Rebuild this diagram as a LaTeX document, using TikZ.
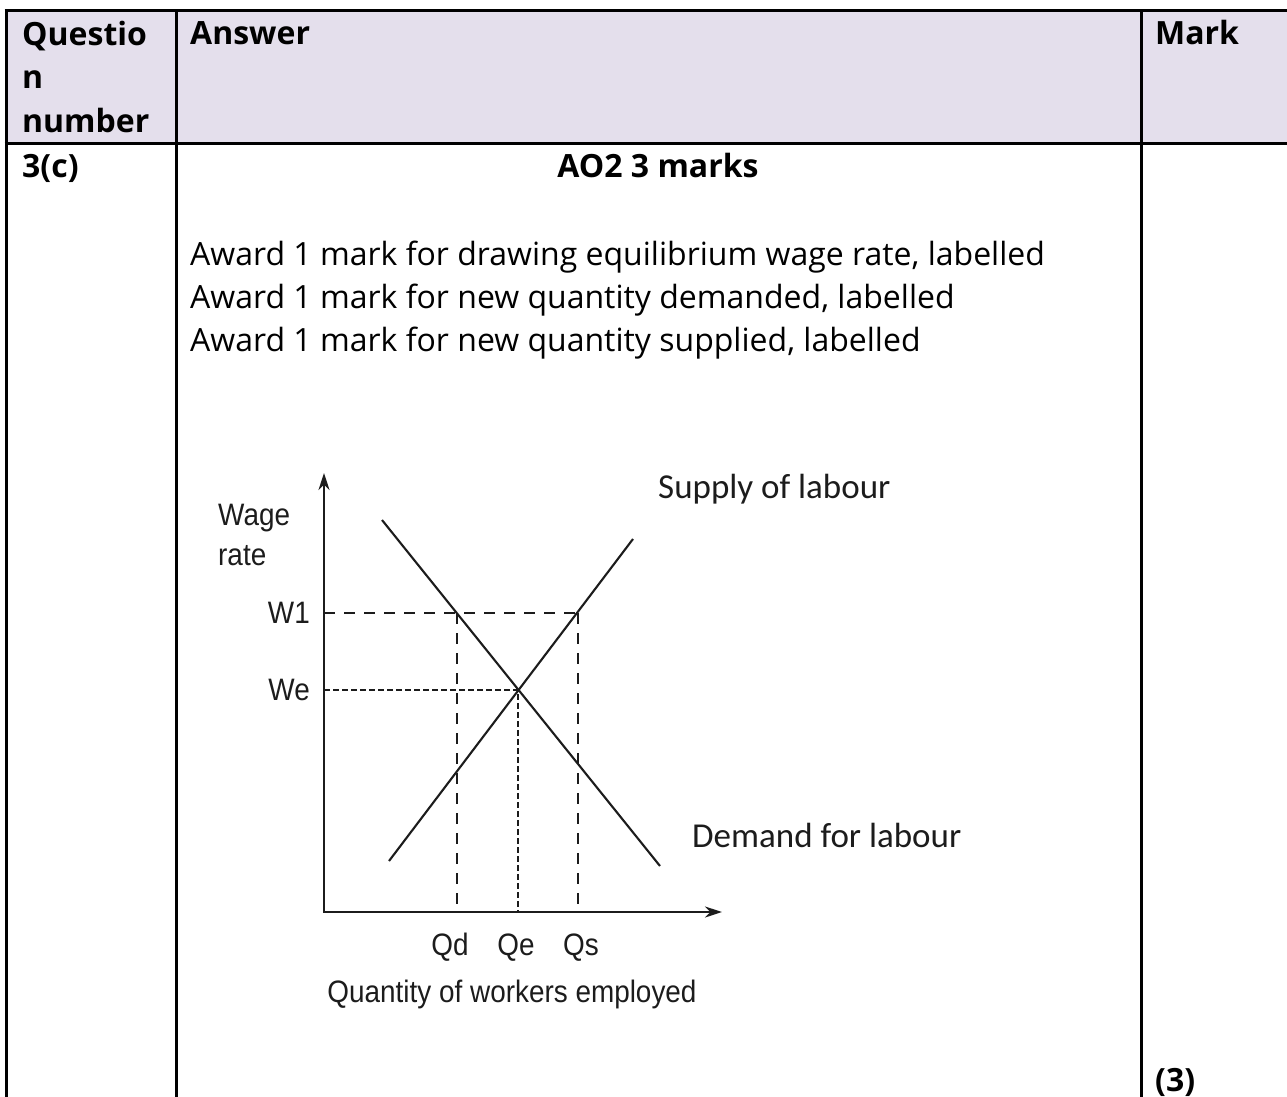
\documentclass[tikz,border=0pt]{standalone}
\usepackage{fontspec}
\setmainfont{Open Sans}
\newfontfamily\graphfont[FakeStretch=0.9]{Liberation Sans}
\newfontfamily\curvefont{Carlito}
\usetikzlibrary{arrows.meta,positioning}
\definecolor{headfill}{HTML}{E4DFEC}
\definecolor{inkgrey}{HTML}{1C1C1C}

\begin{document}
\begin{tikzpicture}[x=1pt, y=-1pt,
  rule/.style={line width=3pt, black},
  headtxt/.style={anchor=base west, inner sep=0pt, font=\fontsize{32}{43.5}\selectfont\bfseries},
  bodytxt/.style={anchor=base west, inner sep=0pt, font=\fontsize{32}{43}\selectfont},
  axis/.style={line width=2.4pt, inkgrey, {Stealth[length=17pt,width=11pt]}-{Stealth[length=17pt,width=11pt]}},
  curve/.style={line width=2.1pt, inkgrey},
  guide/.style={line width=1.6pt, inkgrey, dash pattern=on 11pt off 9pt},
  eqguide/.style={line width=1.6pt, inkgrey, dash pattern=on 6pt off 3pt},
  glabel/.style={inner sep=0pt, inkgrey, font=\fontsize{31}{40}\selectfont\graphfont},
  clabel/.style={inner sep=0pt, inkgrey, anchor=base west, font=\fontsize{35}{40}\selectfont\curvefont}]

\useasboundingbox (0,0) rectangle (1287,1097);

% table frame
\fill[headfill] (6,11) rectangle (1287,143);
\draw[rule] (4.5,11) -- (1287,11);
\draw[rule] (4.5,143) -- (1287,143);
\foreach \x in {6,176,1141}
  \draw[rule] (\x,9.5) -- (\x,1097);

% table text
\node[headtxt, align=left] (qnum) at (22,132) {Questio\\n\\number};
\node[headtxt] (answer) at (190,45) {Answer};
\node[headtxt] (mark) at (1155,45) {Mark};
\node[headtxt] (part) at (22,177) {3(c)};
\node[headtxt, anchor=base] (aotitle) at (658,177) {AO2 3 marks};
\node[bodytxt] (award1) at (190,265) {Award 1 mark for drawing equilibrium wage rate, labelled};
\node[bodytxt] (award2) at ([yshift=-43pt]award1.base west) {Award 1 mark for new quantity demanded, labelled};
\node[bodytxt] (award3) at ([yshift=-43pt]award2.base west) {Award 1 mark for new quantity supplied, labelled};
\node[headtxt] (markval) at (1155,1091) {(3)};

% labour market graph
\coordinate (origin) at (324,912);
\coordinate (ytip) at (324,473);
\coordinate (xtip) at (722,912);
\coordinate (dtop) at (382,520);
\coordinate (dbot) at (660,866);
\coordinate (sbot) at (389,861);
\coordinate (stop) at (633,539);
\coordinate (eq) at (518,690);
\coordinate (wd) at (457,613);
\coordinate (ws) at (578,613);
\coordinate (w1ax) at (324,613);
\coordinate (weax) at (324,690);
\coordinate (qdax) at (457,912);
\coordinate (qeax) at (518,912);
\coordinate (qsax) at (578,912);

\draw[axis] (ytip) -- (origin) -- (xtip);
\draw[curve] (dtop) -- (dbot);
\draw[curve] (sbot) -- (stop);

\draw[guide] (w1ax) -- (ws);
\draw[guide] (wd) -- (qdax);
\draw[guide] (ws) -- (qsax);
\draw[eqguide] (weax) -- (eq) -- (qeax);

\node[glabel, anchor=north west, align=left] (wagelab) at (218,504) {Wage\\rate};
\node[glabel, left=14pt of w1ax] (w1lab) {W1};
\node[glabel, left=14pt of weax] (welab) {We};
\node[glabel, anchor=base] (qdlab) at (450,955) {Qd};
\node[glabel, anchor=base] (qelab) at (516,955) {Qe};
\node[glabel, anchor=base] (qslab) at (581,955) {Qs};
\node[glabel, anchor=base] (qtylab) at (512,1002) {Quantity of workers employed};
\node[clabel] (supplab) at (658,498) {Supply of labour};
\node[clabel] (demlab) at (692,847) {Demand for labour};
\end{tikzpicture}
\end{document}
